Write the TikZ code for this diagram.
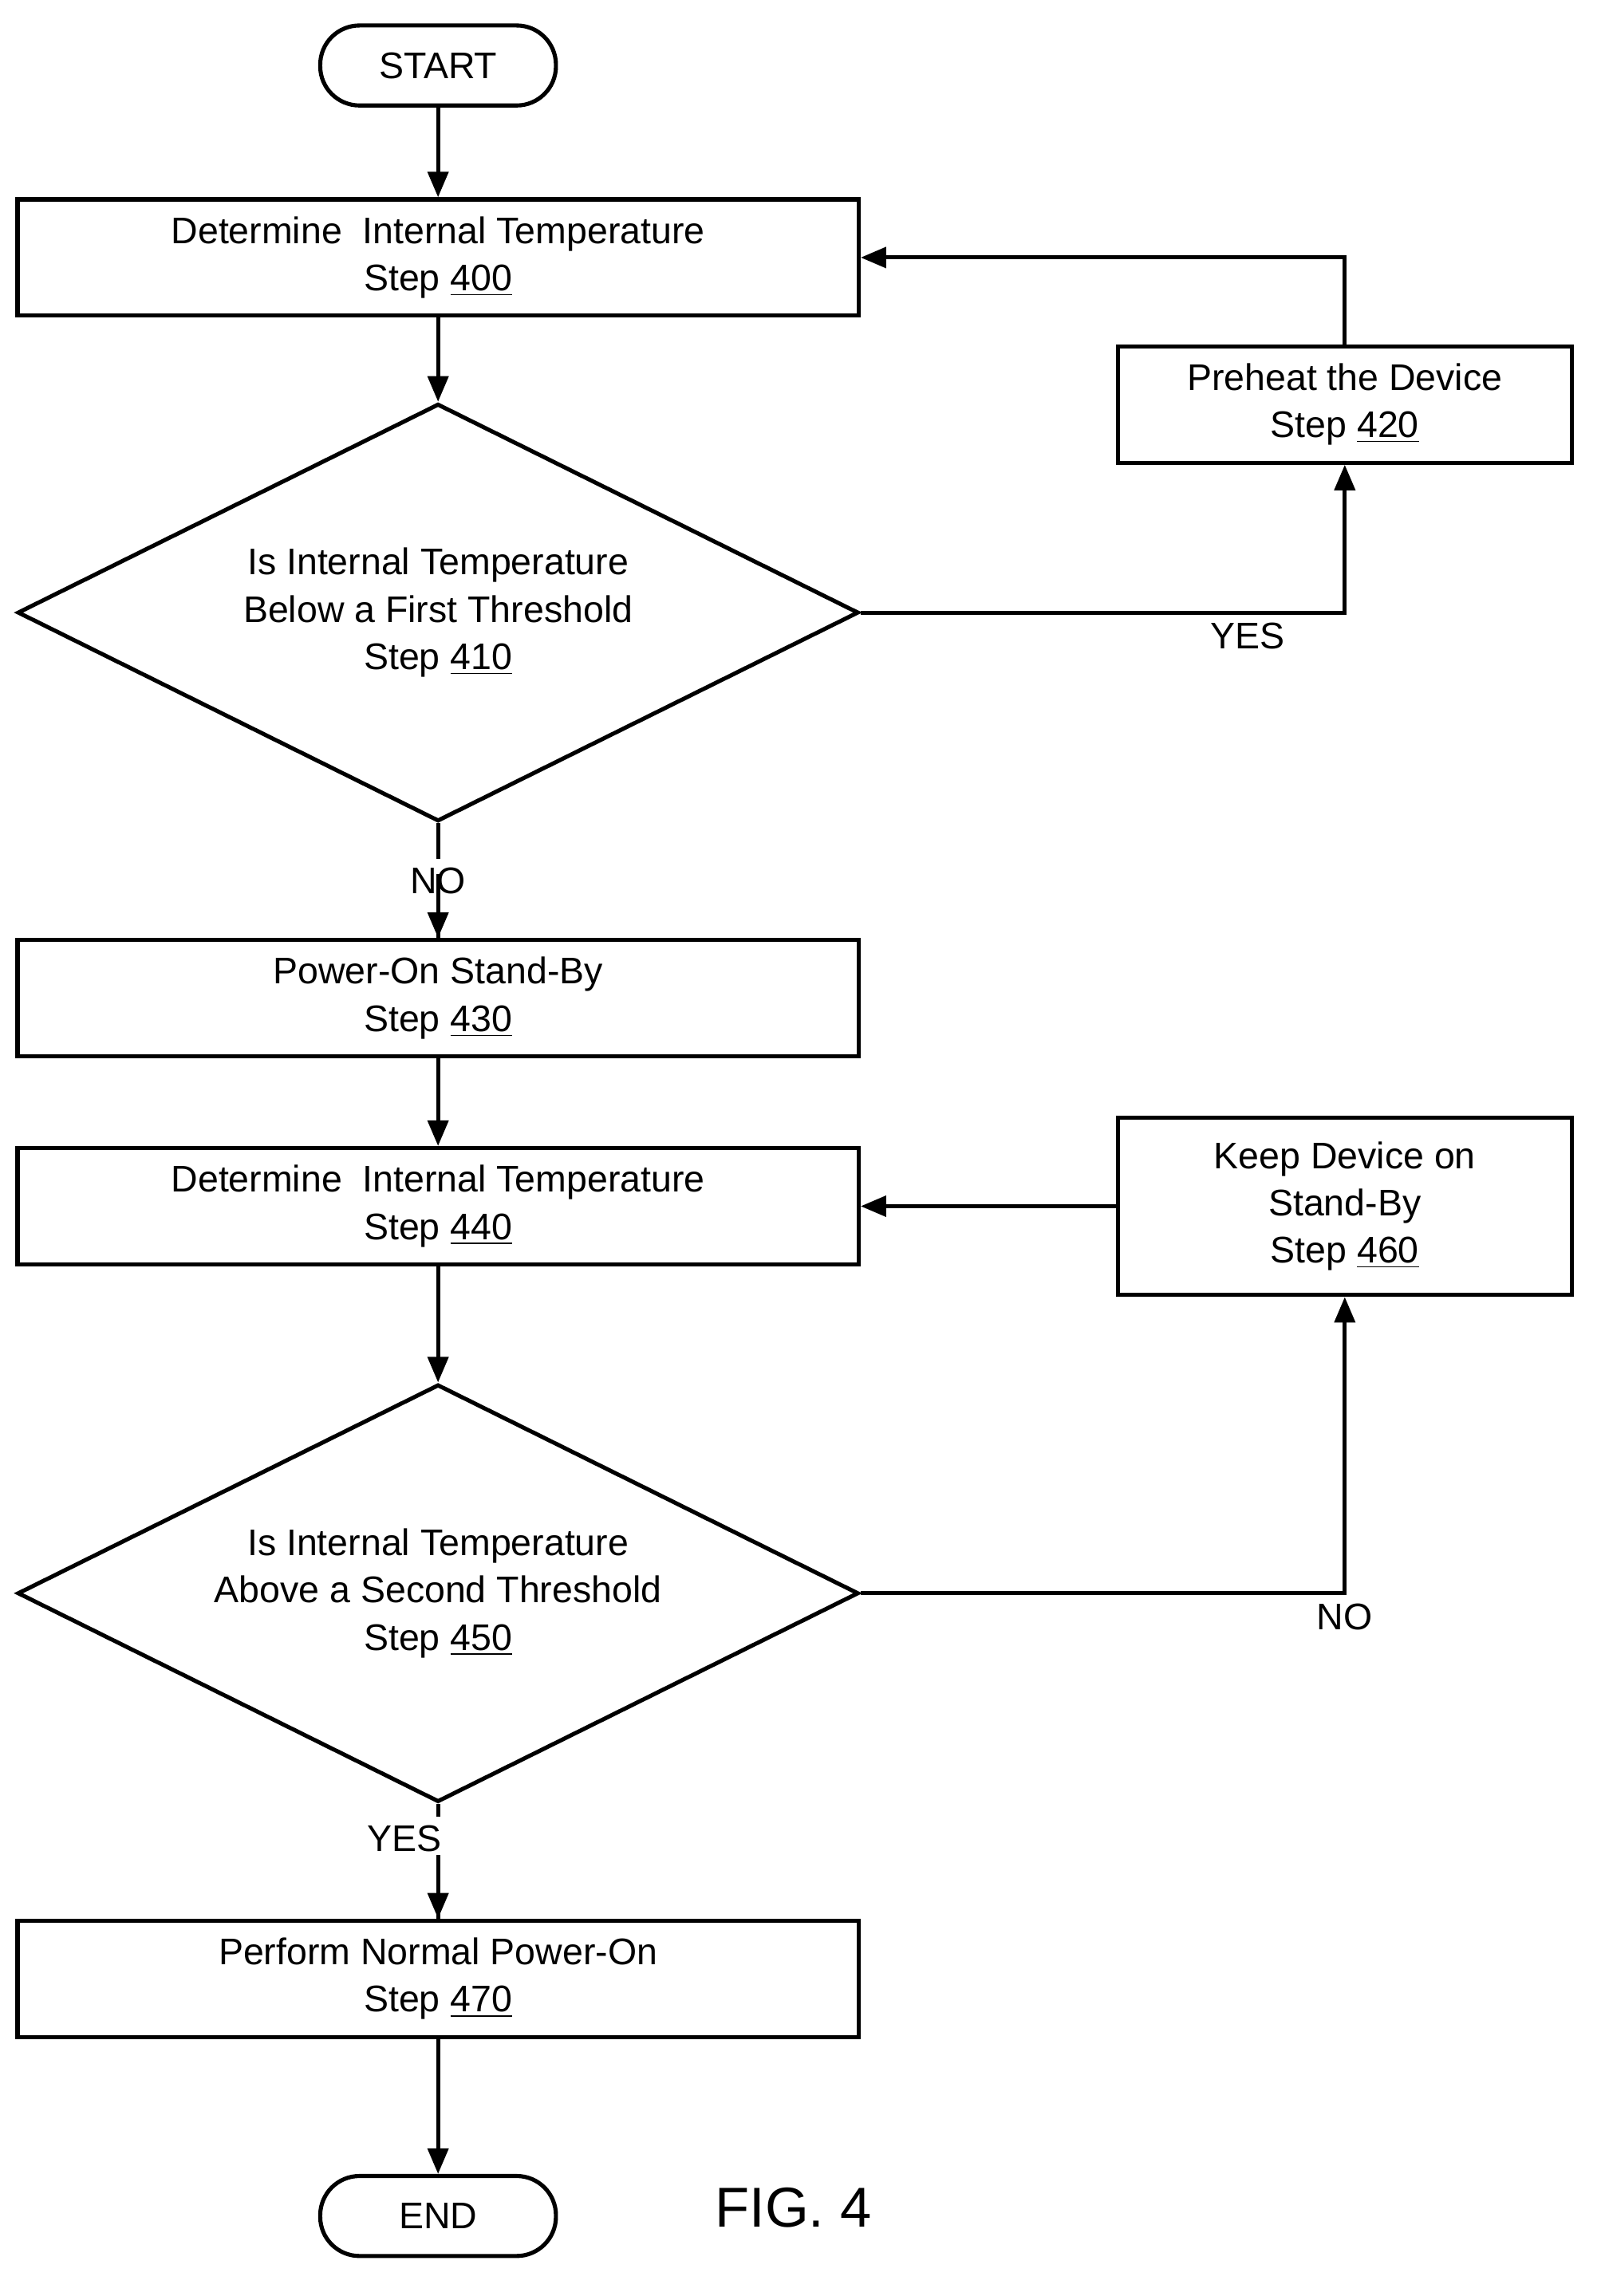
\documentclass[tikz,border=0pt]{standalone}
\usepackage{fontspec}
\setmainfont{Liberation Sans}
\usetikzlibrary{positioning,shapes.geometric,arrows.meta}
\tikzset{
  stepbox/.style={draw,line width=1.6pt,minimum width=11.56cm,minimum height=1.6cm,
    align=center,inner sep=0pt,font=\fontsize{14.5}{18.5}\selectfont},
  side/.style={stepbox,minimum width=6.24cm},
  term/.style={draw,line width=1.6pt,rounded corners=0.54cm,minimum width=3.24cm,
    minimum height=1.1cm,font=\fontsize{14.5}{18}\selectfont},
  decision/.style={draw,diamond,line width=1.6pt,minimum width=11.56cm,
    minimum height=5.74cm,inner sep=0pt},
  lbl/.style={align=center,font=\fontsize{14.5}{18.5}\selectfont},
  flow/.style={line width=1.6pt,-{Triangle[length=10pt,width=8pt]}}
}
\begin{document}
\begin{tikzpicture}[x=0.02cm,y=-0.02cm]
\useasboundingbox (0,0) rectangle (1100,1578);
% main column
\node[term] (start) at (301,45) {START};
\node[stepbox] (s400) at (301,177) {Determine\ \ Internal Temperature\\Step \underline{400}};
\node[decision] (s410) at (301,421) {};
\node[lbl] at (s410) {Is Internal Temperature\\Below a First Threshold\\Step \underline{410}};
\node[stepbox] (s430) at (301,686) {Power-On Stand-By\\Step \underline{430}};
\node[stepbox] (s440) at (301,829) {Determine\ \ Internal Temperature\\Step \underline{440}};
\node[decision] (s450) at (301,1095) {};
\node[lbl] at (s450) {Is Internal Temperature\\Above a Second Threshold\\Step \underline{450}};
\node[stepbox] (s470) at (301,1360) {Perform Normal Power-On\\Step \underline{470}};
\node[term] (end) at (301,1523) {END};
% side boxes
\node[side] (s420) at (924,278) {Preheat the Device\\Step \underline{420}};
\node[side,minimum height=2.44cm] (s460) at (924,829) {Keep Device on\\Stand-By\\Step \underline{460}};
\node[lbl,font=\fontsize{22}{26}\selectfont] (fig) at (545,1517) {FIG. 4};
% connectors
\draw[flow] (start) -- (s400);
\draw[flow] (s400) -- (s410);
\draw[line width=1.6pt] (s410.south) -- node[lbl,fill=white,pos=0.5] {NO} (s430.north);
\draw[flow] ([yshift=-0.7cm]s410.south) -- (s430);
\draw[flow] (s410.east) -| node[lbl,pos=0.4,below] {YES} (s420.south);
\draw[flow] (s420.north) |- (s400.east);
\draw[flow] (s430) -- (s440);
\draw[flow] (s440) -- (s450);
\draw[flow] (s450.east) -| node[lbl,pos=0.5,below] {NO} (s460.south);
\draw[flow] (s460) -- (s440);
\draw[line width=1.6pt] (s450.south) -- node[lbl,fill=white,pos=0.3,xshift=-0.46cm] {YES} (s470.north);
\draw[flow] ([yshift=-0.7cm]s450.south) -- (s470);
\draw[flow] (s470) -- (end);
\end{tikzpicture}
\end{document}
